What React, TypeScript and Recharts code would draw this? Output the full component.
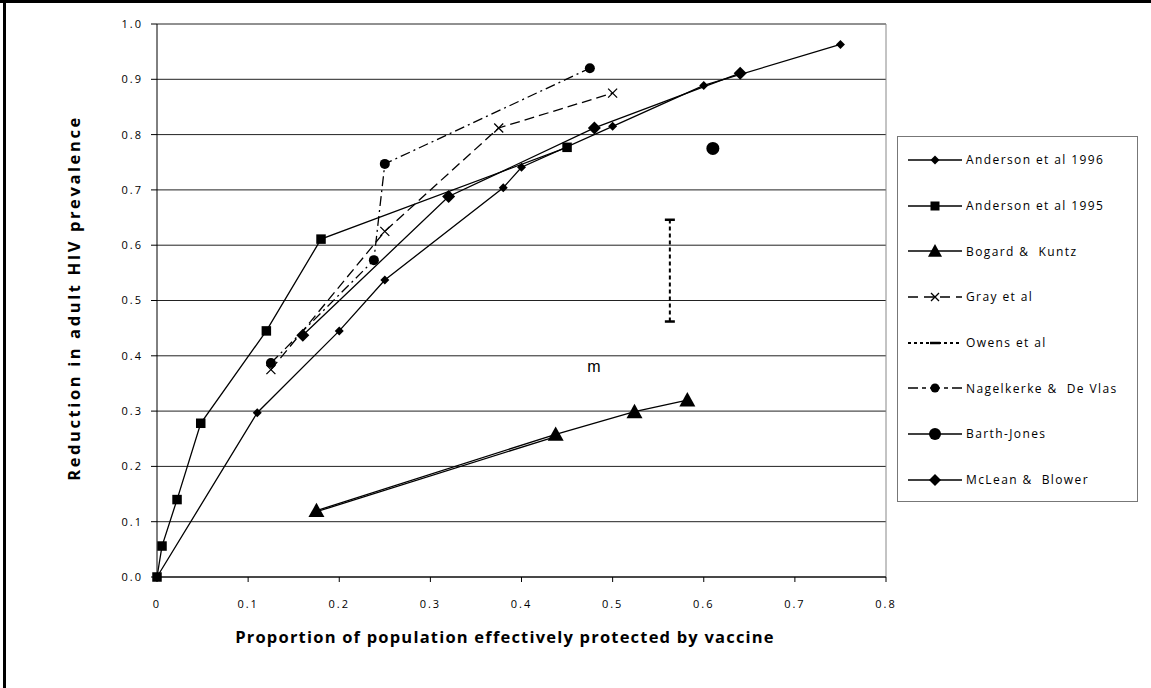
import React from 'react';
import { ScatterChart, Scatter, XAxis, YAxis, CartesianGrid, ReferenceLine, ReferenceDot } from 'recharts';

// values
const anderson1996X = [0, 0.11, 0.2, 0.25, 0.38, 0.4, 0.5, 0.6, 0.75];
const anderson1996Y = [0, 0.297, 0.445, 0.537, 0.704, 0.741, 0.815, 0.889, 0.963];

const anderson1995X = [0, 0.0055, 0.022, 0.048, 0.12, 0.18, 0.45];
const anderson1995Y = [0, 0.056, 0.14, 0.278, 0.445, 0.611, 0.777];

const bogardX = [0.175, 0.4375, 0.524, 0.582];
const bogardY = [0.12, 0.258, 0.299, 0.32];
// second, slightly offset trace between the first two triangles
const bogardTraceX = [0.175, 0.4375];
const bogardTraceY = [0.118, 0.254];

const grayX = [0.125, 0.25, 0.375, 0.5];
const grayY = [0.375, 0.625, 0.812, 0.875];

const owensX = [0.5628, 0.5628];
const owensY = [0.462, 0.646];

const nagelkerkeX = [0.125, 0.238, 0.25, 0.475];
const nagelkerkeY = [0.387, 0.573, 0.747, 0.92];

const barthJonesX = [0.61];
const barthJonesY = [0.775];

const mcLeanX = [0.16, 0.32, 0.48, 0.64];
const mcLeanY = [0.437, 0.688, 0.812, 0.911];

const xTicks = [0, 0.1, 0.2, 0.3, 0.4, 0.5, 0.6, 0.7, 0.8];
const yTicks = [0, 0.1, 0.2, 0.3, 0.4, 0.5, 0.6, 0.7, 0.8, 0.9, 1.0];

const legendNames = [
  'Anderson et al 1996',
  'Anderson et al 1995',
  'Bogard &  Kuntz',
  'Gray et al',
  'Owens et al',
  'Nagelkerke &  De Vlas',
  'Barth-Jones',
  'McLean &  Blower',
];

const toPoints = (xs: number[], ys: number[]) => xs.map((x, i) => ({ x, y: ys[i] }));

const FONT = '"Open Sans", "DejaVu Sans", sans-serif';

const diamond = (r: number) => (p: any) => (
  <path d={`M${p.cx},${p.cy - r}L${p.cx + r},${p.cy}L${p.cx},${p.cy + r}L${p.cx - r},${p.cy}Z`} fill="#000" />
);
const square = (s: number) => (p: any) => (
  <rect x={p.cx - s / 2} y={p.cy - s / 2} width={s} height={s} fill="#000" />
);
const triangle = (w: number) => (p: any) => {
  const h = w * 0.9;
  return <path d={`M${p.cx},${p.cy - h * 0.55}L${p.cx + w / 2},${p.cy + h * 0.45}L${p.cx - w / 2},${p.cy + h * 0.45}Z`} fill="#000" />;
};
const circle = (r: number) => (p: any) => <circle cx={p.cx} cy={p.cy} r={r} fill="#000" />;
const cross = (r: number) => (p: any) => (
  <path d={`M${p.cx - r},${p.cy - r}L${p.cx + r},${p.cy + r}M${p.cx - r},${p.cy + r}L${p.cx + r},${p.cy - r}`} stroke="#000" strokeWidth={1.3} />
);
const cap = (w: number) => (p: any) => (
  <rect x={p.cx - w / 2} y={p.cy - 1.25} width={w} height={2.5} fill="#000" />
);
const none = () => <g />;

const solid = { stroke: '#000', strokeWidth: 1.3 };

const legendSamples = [
  { dash: undefined, marker: diamond(4.5) },
  { dash: undefined, marker: square(9) },
  { dash: undefined, marker: triangle(14) },
  { dash: '10 6', marker: cross(4) },
  { dash: '3 3', marker: cap(10), width: 2 },
  { dash: '10 4 4 4', marker: circle(4.5) },
  { dash: undefined, marker: circle(6) },
  { dash: undefined, marker: diamond(6) },
];

function LegendBox() {
  return (
    <div
      style={{
        position: 'absolute',
        left: 897,
        top: 136,
        width: 241,
        height: 366,
        border: '1px solid #777',
        boxSizing: 'border-box',
        background: '#fff',
      }}
    >
      {legendNames.map((name, i) => {
        const s = legendSamples[i];
        return (
          <div key={name} style={{ height: 45.7, display: 'flex', alignItems: 'center' }}>
            <svg width={66} height={20} style={{ marginLeft: 8 }}>
              <line x1={2} y1={10} x2={56} y2={10} stroke="#000" strokeWidth={s.width ?? 1.3} strokeDasharray={s.dash} />
              {s.marker({ cx: 29, cy: 10 })}
            </svg>
            <span style={{ fontFamily: FONT, fontSize: 12, letterSpacing: 1.4, color: '#000', whiteSpace: 'pre', marginLeft: -6 }}>
              {name}
            </span>
          </div>
        );
      })}
    </div>
  );
}

export default function App() {
  const tickStyle = { fontFamily: FONT, fontSize: 11, letterSpacing: 2, fill: '#000' };
  return (
    <div style={{ position: 'absolute', left: 0, top: 0, width: 1151, height: 688, background: '#fff', overflow: 'hidden' }}>
      <ScatterChart width={1151} height={688} margin={{ top: 24, right: 265, bottom: 71, left: 97 }}>
        <CartesianGrid horizontal vertical={false} stroke="#222" strokeWidth={1} />
        <XAxis
          type="number"
          dataKey="x"
          domain={[0, 0.8]}
          ticks={xTicks}
          tickFormatter={(v: number) => (v === 0 ? '0' : String(v))}
          height={40}
          tickSize={5}
          tickMargin={18}
          stroke="#000"
          tick={tickStyle}
          interval={0}
        />
        <YAxis
          type="number"
          dataKey="y"
          domain={[0, 1]}
          ticks={yTicks}
          tickFormatter={(v: number) => v.toFixed(1)}
          width={60}
          tickSize={6}
          tickMargin={8}
          stroke="#000"
          tick={tickStyle}
          interval={0}
        />
        <ReferenceLine x={0.8} stroke="#888" strokeWidth={1} />
        <ReferenceDot
          x={0.4795}
          y={0.381}
          r={0}
          fill="none"
          stroke="none"
          label={{ value: 'm', position: 'center', fontFamily: '"Liberation Sans", Arial, sans-serif', fontSize: 16, fill: '#000' }}
        />
        <Scatter data={toPoints(bogardTraceX, bogardTraceY)} line={solid} lineType="joint" shape={none} isAnimationActive={false} legendType="none" />
        <Scatter data={toPoints(anderson1996X, anderson1996Y)} line={solid} lineType="joint" shape={diamond(4.5)} isAnimationActive={false} />
        <Scatter data={toPoints(anderson1995X, anderson1995Y)} line={solid} lineType="joint" shape={square(9.5)} isAnimationActive={false} />
        <Scatter data={toPoints(bogardX, bogardY)} line={solid} lineType="joint" shape={triangle(16)} isAnimationActive={false} />
        <Scatter data={toPoints(grayX, grayY)} line={{ ...solid, strokeDasharray: '10 5' }} lineType="joint" shape={cross(4.5)} isAnimationActive={false} />
        <Scatter data={toPoints(owensX, owensY)} line={{ stroke: '#000', strokeWidth: 2, strokeDasharray: '4 3' }} lineType="joint" shape={cap(10)} isAnimationActive={false} />
        <Scatter data={toPoints(nagelkerkeX, nagelkerkeY)} line={{ ...solid, strokeDasharray: '10 4 2 4' }} lineType="joint" shape={circle(5)} isAnimationActive={false} />
        <Scatter data={toPoints(barthJonesX, barthJonesY)} shape={circle(6.5)} isAnimationActive={false} />
        <Scatter data={toPoints(mcLeanX, mcLeanY)} line={solid} lineType="joint" shape={diamond(6.5)} isAnimationActive={false} />
      </ScatterChart>
      <LegendBox />
      <svg width={1151} height={688} style={{ position: 'absolute', left: 0, top: 0, pointerEvents: 'none' }}>
        <line x1={4.5} y1={0} x2={4.5} y2={688} stroke="#000" strokeWidth={3} />
        <line x1={0} y1={1.5} x2={1151} y2={1.5} stroke="#000" strokeWidth={3} />
        <text x={505} y={643} textAnchor="middle" fontFamily={FONT} fontSize={16.5} fontWeight="bold" letterSpacing={1.2} fill="#000">
          Proportion of population effectively protected by vaccine
        </text>
        <text
          x={80}
          y={298}
          textAnchor="middle"
          transform="rotate(-90, 80, 298)"
          fontFamily={FONT}
          fontSize={16.5}
          fontWeight="bold"
          letterSpacing={2.6}
          fill="#000"
        >
          Reduction in adult HIV prevalence
        </text>
      </svg>
    </div>
  );
}
